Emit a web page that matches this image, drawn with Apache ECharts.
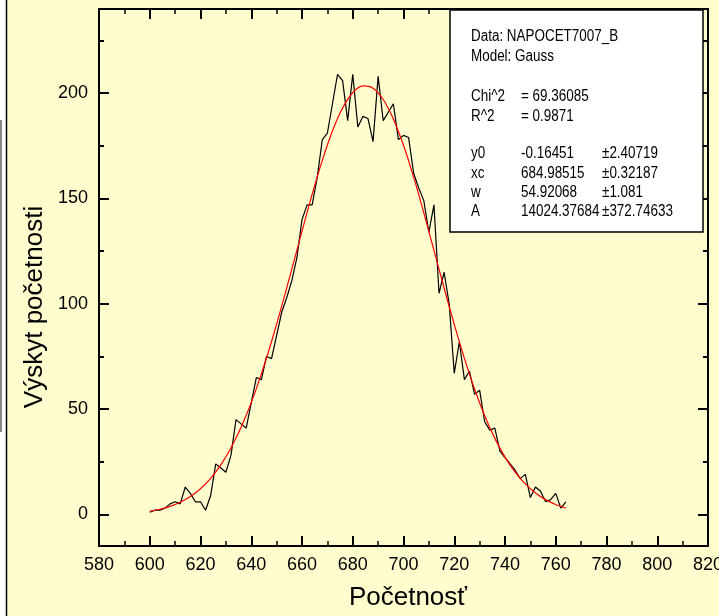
<!DOCTYPE html>
<html>
<head>
    <meta charset="utf-8">
    <title>Gauss fit</title>
    <script src="https://cdn.jsdelivr.net/npm/echarts/dist/echarts.min.js"></script>
    <style>
        html, body {margin: 0; padding: 0; background: #FFFDCE;}
        #chart {width: 719px; height: 616px;}
    </style>
</head>
<body>
<div id="chart"></div>

<script type="text/javascript">
    // measured counts (black line)
    var xs = [600,602,604,606,608,610,612,614,616,618,620,622,624,626,628,630,632,634,636,638,
        640,642,644,646,648,650,652,654,656,658,660,662,664,666,668,670,672,674,676,678,
        680,682,684,686,688,690,692,694,696,698,700,702,704,706,708,710,712,714,716,718,
        720,722,724,726,728,730,732,734,736,738,740,742,744,746,748,750,752,754,756,758,
        760,762,764];
    var counts = [1,2,2,3,5,6,5,13,10,6,6,2,9,24,22,20,28,45,43,41,
        53,65,64,75,74,85,96,103,111,122,140,147,147,160,178,181,195,209,206,187,
        209,184,189,188,177,208,187,191,195,178,180,179,162,155,149,134,147,105,115,100,
        67,82,64,68,57,59,44,40,41,30,27,24,21,17,19,8,13,11,6,7,
        10,3,6];

    // Gauss fit (red line)
    var fitX = [600,604,608,612,616,620,624,628,632,636,640,644,648,652,656,660,664,668,672,676,
        680,684,688,692,696,700,704,708,712,716,720,724,728,732,736,740,744,748,752,756,760,764];
    var fitY = [1.53,2.47,3.84,5.80,8.52,12.22,17.14,23.49,31.51,41.35,53.08,66.72,82.09,98.87,116.56,134.52,151.99,168.10,182.03,192.95,
        200.24,203.45,202.35,197.03,187.82,175.29,160.15,143.23,125.41,107.50,90.21,74.09,59.57,46.88,36.11,27.22,20.07,14.48,10.21,7.03,4.72,3.08];

    var yMajor = [0, 50, 100, 150, 200];
    var yMinor = [25, 75, 125, 175, 225];

    var xTitle = 'Početnosť';
    var yTitle = 'Výskyt početnosti';

    // fit report box
    var infoHead = ['Data: NAPOCET7007_B', 'Model: Gauss'];
    var infoStat = [['Chi^2', '= 69.36085'], ['R^2', '= 0.9871']];
    var infoPar = [
        ['y0', '-0.16451', '\u00b12.40719'],
        ['xc', '684.98515', '\u00b10.32187'],
        ['w', '54.92068', '\u00b11.081'],
        ['A', '14024.37684', '\u00b1372.74633']
    ];

    var font = 'Liberation Sans, Arial, sans-serif';

    var pairs = xs.map(function (x, i) { return [x, counts[i]]; });
    var fitPairs = fitX.map(function (x, i) { return [x, fitY[i]]; });

    // narrow text: 16px squeezed horizontally
    function txt(x, y, s) {
        return {type: 'text', x: x, y: y, z: 101, scaleX: 0.84,
            style: {text: s, fill: '#000', font: '16px ' + font, textVerticalAlign: 'middle'}};
    }
    var boxItems = [{type: 'rect', z: 100, shape: {x: 450, y: 10, width: 253, height: 222},
        style: {fill: '#fff', stroke: '#000', lineWidth: 1.5}}];
    boxItems.push(txt(471, 37, infoHead[0]));
    boxItems.push(txt(471, 57, infoHead[1]));
    infoStat.forEach(function (r, i) {
        boxItems.push(txt(471, 97 + i * 20, r[0]));
        boxItems.push(txt(521, 97 + i * 20, r[1]));
    });
    infoPar.forEach(function (r, i) {
        var y = 154 + i * 19.3;
        boxItems.push(txt(471, y, r[0]));
        boxItems.push(txt(521, y, r[1]));
        boxItems.push(txt(602, y, r[2]));
    });
    // axis titles
    boxItems.push({type: 'text', x: 408, y: 598,
        style: {text: xTitle, fill: '#000', font: '26px ' + font, textAlign: 'center', textVerticalAlign: 'middle'}});
    boxItems.push({type: 'text', x: 35, y: 307, rotation: Math.PI / 2,
        style: {text: yTitle, fill: '#000', font: '26px ' + font, textAlign: 'center', textVerticalAlign: 'middle'}});
    // left page edge
    boxItems.push({type: 'rect', shape: {x: 0, y: 0, width: 6, height: 616}, style: {fill: '#fff'}});
    boxItems.push({type: 'line', shape: {x1: 6.5, y1: 0, x2: 6.5, y2: 616}, style: {stroke: '#000', lineWidth: 1.5}});
    boxItems.push({type: 'line', shape: {x1: 1, y1: 120, x2: 1, y2: 432}, style: {stroke: '#888', lineWidth: 2}});

    var lineStyle = {color: '#000', width: 2};

    function xAx(pos) {
        return {
            type: 'value', position: pos, min: 580, max: 820, interval: 20,
            axisLine: {show: true, onZero: false, lineStyle: lineStyle},
            axisTick: {show: true, inside: true, length: 10, lineStyle: lineStyle},
            minorTick: {show: true, splitNumber: 2, length: 5, lineStyle: {color: '#000', width: 1.5}},
            axisLabel: {show: pos === 'bottom', color: '#000', fontSize: 18, fontFamily: font, margin: 10},
            splitLine: {show: false}
        };
    }
    function yAx(pos, ticks, len, labels) {
        return {
            type: 'value', position: pos, min: -15, max: 240,
            axisLine: {show: true, onZero: false, lineStyle: lineStyle},
            axisTick: {show: true, inside: true, length: len, customValues: ticks, lineStyle: lineStyle},
            axisLabel: {show: labels, customValues: ticks, color: '#000', fontSize: 18, fontFamily: font, margin: 11},
            splitLine: {show: false}
        };
    }

    var myChart = echarts.init(document.getElementById('chart'), null, {renderer: 'canvas'});
    var option = {
        backgroundColor: '#FFFDCE',
        animation: false,
        grid: {left: 99, right: 11, top: 9, bottom: 70, outerBoundsMode: 'none'},
        xAxis: [xAx('bottom'), xAx('top')],
        yAxis: [
            yAx('left', yMajor, 10, true),
            yAx('left', yMinor, 5, false),
            yAx('right', yMajor, 10, false),
            yAx('right', yMinor, 5, false)
        ],
        series: [{
            name: 'data',
            type: 'line',
            data: pairs,
            showSymbol: false,
            lineStyle: {color: '#000', width: 1.2}
        }, {
            name: 'fit',
            type: 'line',
            data: fitPairs,
            smooth: 0.3,
            showSymbol: false,
            lineStyle: {color: '#FF0000', width: 1.2}
        }],
        graphic: boxItems
    };
    myChart.setOption(option);
</script>
</body>
</html>
